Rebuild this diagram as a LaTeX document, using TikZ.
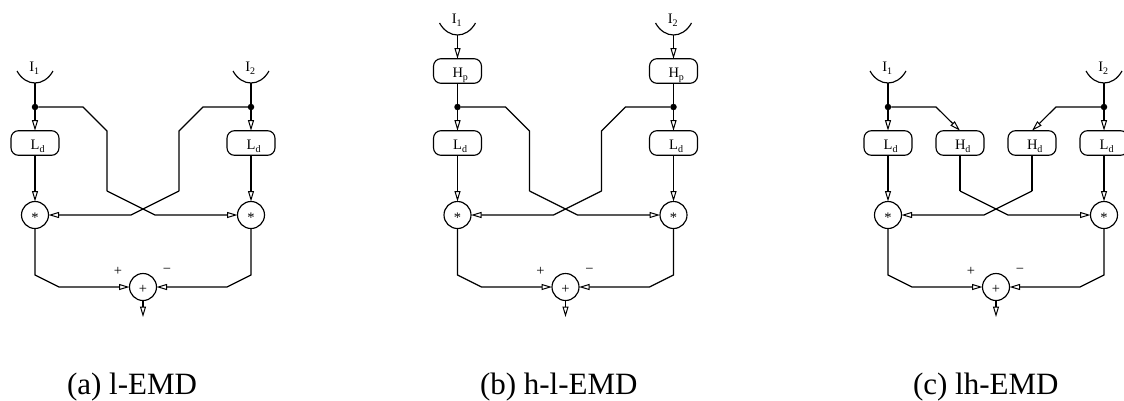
\documentclass[tikz,border=0pt]{standalone}
\usepackage{fontspec}
\setmainfont{Liberation Serif}
\usetikzlibrary{arrows.meta,calc}
\tikzset{
  flow/.style={line width=1.15pt,draw=black,line join=miter},
  arr/.style={flow,-{Triangle[open,length=10.5pt,width=6pt,line width=1pt]}},
  filt/.style={draw,line width=1.15pt,rounded corners=7.5pt,minimum width=48pt,minimum height=24.6pt,inner sep=0pt,outer sep=0pt,font=\fontsize{14.5}{15}\selectfont},
  opr/.style={draw,line width=1.15pt,circle,minimum size=27pt,inner sep=0pt,outer sep=0pt,font=\fontsize{14.5}{15}\selectfont},
  junction/.style={circle,fill=black,minimum size=6.5pt,inner sep=0pt,outer sep=0pt},
  txt/.style={inner sep=0pt,outer sep=0pt,font=\fontsize{14.5}{15}\selectfont},
  captext/.style={anchor=base west,inner sep=0pt,outer sep=0pt,font=\fontsize{31}{31}\selectfont},
}
\newcommand{\subtxt}[3]{\smash{\makebox[0pt][l]{\kern#3 #1\raisebox{-3pt}{\fontsize{10}{10}\selectfont #2}}}}
\newcommand{\boxtxt}[3]{\smash{\raisebox{-6.5pt}{\subtxt{#1}{#2}{#3}}}}
\newcommand{\inputarc}[4]{% name, x, y-bottom, digit
  \coordinate (A#1) at (#2,#3);
  \draw[flow] ($(A#1)+(-18,-12)$) .. controls ($(A#1)+(-9,4)$) and ($(A#1)+(9,4)$) .. ($(A#1)+(18,-12)$);
  \node[txt] (I#1) at ($(A#1)+(-1,-11.3)$) {\subtxt{I}{#4}{-4.7pt}};
}
\newcommand{\commonpart}{%
  \node[filt] (L1) at (35,143) {\boxtxt{L}{d}{-4.3pt}};
  \node[filt] (L2) at (251,143) {\boxtxt{L}{d}{-4.3pt}};
  \node[junction] (D1) at (35,107) {};
  \node[junction] (D2) at (251,107) {};
  \node[opr] (S1) at (35,215) {\smash{\raisebox{-7.5pt}{*}}};
  \node[opr] (S2) at (251,215) {\smash{\raisebox{-7.5pt}{*}}};
  \node[opr] (P) at (143,287) {\smash{\raisebox{-6pt}{+}}};
  \node[txt] (plus) at (118,271) {+};
  \node[txt] (minus) at (167,271) {−};
  \coordinate (v1) at (107,191); \coordinate (w1) at (155,215);
  \coordinate (v2) at (179,191); \coordinate (w2) at (131,215);
  \coordinate (t1) at (83,107); \coordinate (u1) at (107,131);
  \coordinate (t2) at (203,107); \coordinate (u2) at (179,131);
  \coordinate (p1) at (35,275); \coordinate (q1) at (59,287);
  \coordinate (p2) at (251,275); \coordinate (q2) at (227,287);
  \coordinate (out) at (143,317);
  \draw[arr] (D1) -- (L1);
  \draw[arr] (D2) -- (L2);
  \draw[arr] (L1) -- (S1);
  \draw[arr] (L2) -- (S2);
  \draw[arr] (v1) -- (w1) -- (S2);
  \draw[arr] (v2) -- (w2) -- (S1);
  \draw[arr] (S1) -- (p1) -- (q1) -- (P);
  \draw[arr] (S2) -- (p2) -- (q2) -- (P);
  \draw[arr] (P) -- (out);
}
\begin{document}
\begin{tikzpicture}[x=1pt,y=-1pt]
\useasboundingbox (0,0) rectangle (1124,400);
% panel a
\begin{scope}[name prefix=a-]
  \commonpart
  \inputarc{1}{35}{83}{1}
  \inputarc{2}{251}{83}{2}
  \draw[flow] (A1) -- (D1);
  \draw[flow] (A2) -- (D2);
  \draw[flow] (D1) -- (t1) -- (u1) -- (v1);
  \draw[flow] (D2) -- (t2) -- (u2) -- (v2);
\end{scope}
\node[captext] (capa) at (67,394) {(a) l-EMD};
% panel b
\begin{scope}[shift={(422.5,0)},name prefix=b-]
  \commonpart
  \inputarc{1}{35}{35}{1}
  \inputarc{2}{251}{35}{2}
  \node[filt] (H1) at (35,71) {\boxtxt{H}{p}{-5pt}};
  \node[filt] (H2) at (251,71) {\boxtxt{H}{p}{-5pt}};
  \draw[arr] (A1) -- (H1);
  \draw[arr] (A2) -- (H2);
  \draw[flow] (H1) -- (D1);
  \draw[flow] (H2) -- (D2);
  \draw[flow] (D1) -- (t1) -- (u1) -- (v1);
  \draw[flow] (D2) -- (t2) -- (u2) -- (v2);
\end{scope}
\node[captext] (capb) at (480,394) {(b) h-l-EMD};
% panel c
\begin{scope}[shift={(853,0)},name prefix=c-]
  \commonpart
  \inputarc{1}{35}{83}{1}
  \inputarc{2}{251}{83}{2}
  \node[filt] (H1) at (107,143) {\boxtxt{H}{d}{-5pt}};
  \node[filt] (H2) at (179,143) {\boxtxt{H}{d}{-5pt}};
  \draw[flow] (A1) -- (D1);
  \draw[flow] (A2) -- (D2);
  \draw[arr] (D1) -- (t1) -- (H1.north);
  \draw[arr] (D2) -- (t2) -- (H2.north);
  \draw[flow] (H1) -- (v1);
  \draw[flow] (H2) -- (v2);
\end{scope}
\node[captext] (capc) at (913,394) {(c) lh-EMD};
\end{tikzpicture}
\end{document}
